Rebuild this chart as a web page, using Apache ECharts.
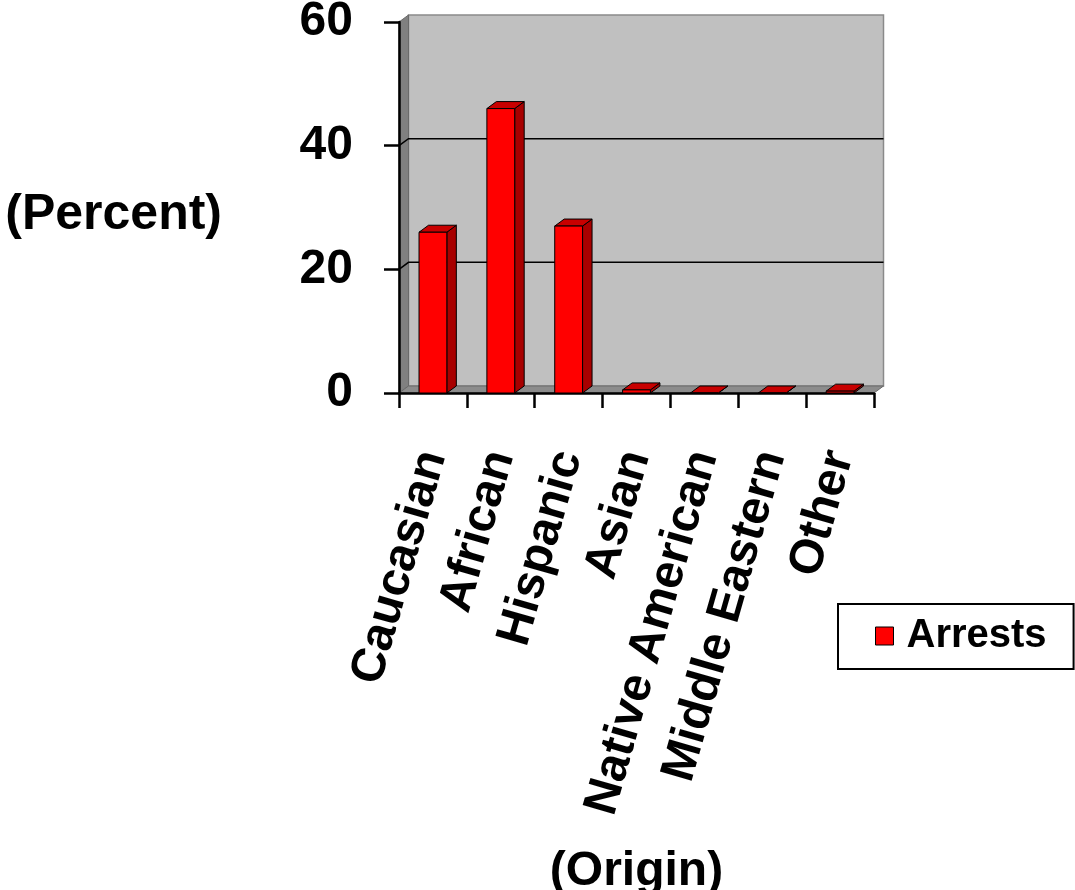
<!DOCTYPE html>
<html>
<head>
<meta charset="utf-8">
<script src="https://cdn.jsdelivr.net/npm/echarts@6/dist/echarts.min.js"></script>
<style>
html,body{margin:0;padding:0;background:#fff;}
#chart{width:1075px;height:890px;}
</style>
</head>
<body>
<div id="chart"></div>
<script>
var categories = ['Caucasian', 'African', 'Hispanic', 'Asian', 'Native American', 'Middle Eastern', 'Other'];
var arrests = [26, 46, 27, 0.5, 0, 0, 0.3];
var yTicks = [0, 20, 40, 60];
var seriesName = 'Arrests';
var xTitle = '(Origin)';
var yTitle = '(Percent)';

var FONT = 'Arial, "Liberation Sans", sans-serif';
var DX = 9.5, DY = -7;
var BAR_RATIO = 0.41;
var yMin = yTicks[0], yMax = yTicks[yTicks.length - 1], yStep = yTicks[1] - yTicks[0];

var chart = echarts.init(document.getElementById('chart'));

function renderWalls(params, api) {
  var c0 = api.coord([0, yMin]);
  var cN = api.coord([categories.length - 1, yMin]);
  var bw = api.size([1, 0])[0];
  var xl = c0[0] - bw / 2, xr = cN[0] + bw / 2;
  var y0 = c0[1], yT = api.coord([0, yMax])[1];
  var children = [];
  children.push({type: 'polygon', shape: {points: [[xl + DX, yT + DY], [xr + DX, yT + DY], [xr + DX, y0 + DY], [xl + DX, y0 + DY]]},
    style: {fill: '#c0c0c0', stroke: '#8a8a8a', lineWidth: 1.5}});
  children.push({type: 'polygon', shape: {points: [[xl, y0], [xl, yT], [xl + DX, yT + DY], [xl + DX, y0 + DY]]},
    style: {fill: '#808080', stroke: '#6a6a6a', lineWidth: 1}});
  children.push({type: 'polygon', shape: {points: [[xl, y0], [xr, y0], [xr + DX, y0 + DY], [xl + DX, y0 + DY]]},
    style: {fill: '#8c8c8c', stroke: '#6a6a6a', lineWidth: 1}});
  yTicks.forEach(function (v) {
    if (v <= yMin || v >= yMax) return;
    var y = api.coord([0, v])[1];
    children.push({type: 'polyline', shape: {points: [[xl, y], [xl + DX, y + DY], [xr + DX, y + DY]]},
      style: {stroke: '#000', lineWidth: 1.5, fill: null}});
  });
  return {type: 'group', children: children};
}

function renderBar(params, api) {
  var i = api.value(0), v = api.value(1);
  var base = api.coord([i, yMin]);
  var top = api.coord([i, v]);
  var w = api.size([1, 0])[0] * BAR_RATIO;
  var x0 = base[0] - w / 2, x1 = base[0] + w / 2;
  var yb = base[1], yt = top[1];
  var st = {stroke: '#000', lineWidth: 1, lineJoin: 'round'};
  return {type: 'group', children: [
    {type: 'polygon', shape: {points: [[x1, yt], [x1 + DX, yt + DY], [x1 + DX, yb + DY], [x1, yb]]},
      style: Object.assign({fill: '#a80000'}, st)},
    {type: 'polygon', shape: {points: [[x0, yt], [x0 + DX, yt + DY], [x1 + DX, yt + DY], [x1, yt]]},
      style: Object.assign({fill: '#c80000'}, st)},
    {type: 'polygon', shape: {points: [[x0, yt], [x1, yt], [x1, yb], [x0, yb]]},
      style: Object.assign({fill: '#ff0000'}, st)}
  ]};
}

var option = {
  animation: false,
  backgroundColor: '#ffffff',
  textStyle: {fontFamily: FONT},
  grid: {left: 399, right: 201, top: 22, bottom: 497, containLabel: false, outerBoundsMode: 'none'},
  legend: {
    data: [{name: seriesName, icon: 'rect'}],
    left: 838, top: 604,
    orient: 'horizontal',
    padding: [12, 27, 13, 37],
    itemWidth: 18, itemHeight: 18,
    borderColor: '#000', borderWidth: 2,
    backgroundColor: '#fff',
    selectedMode: false,
    itemStyle: {borderColor: '#000', borderWidth: 1},
    textStyle: {fontFamily: FONT, fontSize: 40, fontWeight: 'bold', color: '#000', padding: [0, 0, 0, 8]}
  },
  xAxis: {
    type: 'category',
    data: categories,
    boundaryGap: true,
    z: 5,
    name: xTitle,
    nameLocation: 'middle',
    nameGap: 455,
    nameTextStyle: {fontFamily: FONT, fontSize: 48, fontWeight: 'bold', color: '#000'},
    axisLine: {show: true, lineStyle: {color: '#000', width: 2.5}},
    axisTick: {show: true, length: 15, lineStyle: {color: '#000', width: 2.5}},
    axisLabel: {rotate: 74, margin: 59, interval: 0, fontFamily: FONT, fontSize: 48, fontWeight: 'bold', color: '#000'},
    splitLine: {show: false}
  },
  yAxis: {
    type: 'value',
    min: yMin, max: yMax, interval: yStep,
    z: 5,
    name: yTitle,
    nameLocation: 'middle',
    nameRotate: 0,
    nameGap: 177,
    nameTextStyle: {fontFamily: FONT, fontSize: 50, fontWeight: 'bold', color: '#000', verticalAlign: 'top', lineHeight: 16},
    axisLine: {show: true, lineStyle: {color: '#000', width: 2.5}},
    axisTick: {show: true, length: 15, lineStyle: {color: '#000', width: 2.5}},
    axisLabel: {margin: 46, fontFamily: FONT, fontSize: 48, fontWeight: 'bold', color: '#000'},
    splitLine: {show: false}
  },
  series: [
    {
      name: 'walls',
      type: 'custom',
      silent: true,
      z: 1,
      renderItem: renderWalls,
      data: [[0, 0]],
      clip: false
    },
    {
      name: seriesName,
      type: 'custom',
      z: 6,
      itemStyle: {color: '#ff0000'},
      renderItem: renderBar,
      encode: {x: 0, y: 1},
      data: arrests.map(function (v, i) { return [i, v]; }),
      clip: false
    }
  ]
};
chart.setOption(option);
</script>
</body>
</html>
